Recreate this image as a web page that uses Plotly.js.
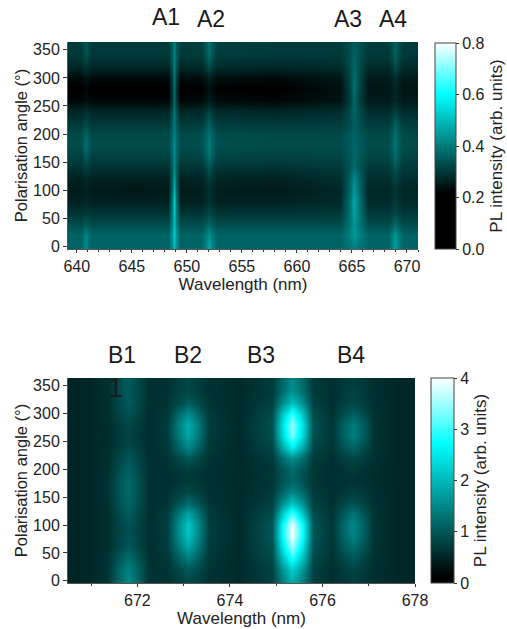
<!DOCTYPE html>
<html><head><meta charset="utf-8">
<script src="https://cdn.plot.ly/plotly-3.0.1.min.js"></script>
<style>html,body{margin:0;padding:0;background:#fff}</style></head>
<body><div id="chart" style="width:507px;height:629px"></div>
<script>
const angles=[0,20,40,60,80,100,120,140,160,180,200,220,240,260,280,300,320,340,360];
const wavelengthsA=[639,640.35,640.6,640.8,641,641.25,645,648.3,648.65,648.85,649.05,649.4,651.3,651.75,652,652.25,652.7,658,663.9,664.7,665.2,665.7,666.5,668.3,668.65,668.9,669.15,669.6,672];
const intensityA=[
[.365,.365,.39,.425,.39,.365,.365,.365,.43,.495,.43,.365,.365,.415,.465,.415,.365,.365,.365,.39,.415,.39,.365,.365,.41,.455,.41,.365,.365],
[.365,.365,.385,.415,.385,.365,.365,.365,.445,.525,.445,.365,.365,.40,.435,.40,.365,.365,.365,.405,.445,.405,.365,.365,.405,.445,.405,.365,.365],
[.33,.33,.34,.355,.34,.33,.33,.33,.415,.50,.415,.33,.33,.35,.37,.35,.33,.33,.33,.385,.44,.385,.33,.33,.35,.37,.35,.33,.33],
[.295,.295,.30,.305,.30,.295,.295,.295,.405,.515,.405,.295,.295,.31,.325,.31,.295,.295,.30,.38,.46,.38,.30,.30,.31,.32,.31,.30,.30],
[.265,.265,.27,.275,.27,.265,.265,.265,.395,.525,.395,.265,.265,.28,.295,.28,.265,.265,.28,.375,.47,.375,.28,.28,.29,.30,.29,.28,.28],
[.255,.255,.26,.265,.26,.255,.25,.255,.37,.485,.37,.255,.26,.275,.29,.275,.26,.255,.275,.36,.445,.36,.275,.275,.285,.295,.285,.275,.275],
[.265,.265,.27,.28,.27,.265,.265,.265,.36,.455,.36,.265,.27,.29,.31,.29,.27,.265,.285,.355,.425,.355,.285,.285,.30,.315,.30,.285,.285],
[.29,.29,.30,.31,.30,.29,.29,.29,.355,.42,.355,.29,.295,.32,.345,.32,.295,.29,.30,.34,.38,.34,.30,.30,.32,.34,.32,.30,.30],
[.315,.315,.335,.355,.335,.315,.315,.315,.37,.425,.37,.315,.32,.355,.39,.355,.32,.315,.32,.345,.37,.345,.32,.32,.35,.38,.35,.32,.32],
[.33,.33,.355,.38,.355,.33,.33,.33,.38,.43,.38,.33,.335,.37,.405,.37,.335,.33,.33,.35,.37,.35,.33,.33,.36,.39,.36,.33,.33],
[.325,.325,.345,.365,.345,.325,.325,.325,.37,.415,.37,.325,.33,.36,.39,.36,.33,.325,.325,.345,.365,.345,.325,.325,.355,.385,.355,.325,.325],
[.30,.30,.31,.325,.31,.30,.30,.30,.35,.40,.35,.30,.305,.33,.355,.33,.305,.30,.305,.33,.355,.33,.305,.305,.33,.355,.33,.305,.305],
[.275,.275,.28,.29,.28,.275,.275,.275,.335,.395,.335,.275,.28,.30,.32,.30,.28,.275,.285,.325,.365,.325,.285,.285,.30,.315,.30,.285,.285],
[.225,.225,.23,.235,.23,.225,.225,.225,.30,.375,.30,.225,.23,.245,.26,.245,.23,.225,.245,.305,.365,.305,.255,.255,.265,.275,.265,.255,.255],
[.205,.21,.215,.225,.215,.21,.21,.21,.295,.38,.295,.21,.215,.23,.245,.23,.215,.21,.24,.31,.38,.31,.25,.25,.26,.27,.26,.25,.25],
[.23,.23,.24,.245,.24,.23,.23,.23,.31,.39,.31,.23,.235,.25,.265,.25,.235,.23,.25,.315,.38,.315,.255,.255,.27,.285,.27,.255,.255],
[.275,.275,.285,.30,.285,.275,.275,.275,.34,.405,.34,.275,.28,.305,.33,.305,.28,.275,.28,.325,.37,.325,.28,.28,.305,.33,.305,.28,.28],
[.30,.30,.32,.34,.32,.30,.30,.30,.355,.41,.355,.30,.305,.34,.375,.34,.305,.30,.30,.33,.36,.33,.30,.30,.33,.36,.33,.30,.30],
[.305,.305,.325,.345,.325,.305,.305,.305,.355,.405,.355,.305,.31,.35,.39,.35,.31,.305,.305,.33,.355,.33,.305,.305,.335,.365,.335,.305,.305]
];
const wavelengthsB=[670.4,671,671.35,671.58,671.8,672.02,672.25,672.65,672.88,673.1,673.32,673.55,674.2,674.9,675.13,675.35,675.57,675.8,676.2,676.43,676.65,676.87,677.1,677.6,678.1];
const intensityB=[
[.46,.52,.645,1.12,1.5,1.12,.645,.625,.75,.85,.75,.625,.55,.76,1.41,1.9,1.41,.76,.6,.68,.75,.68,.6,.52,.5],
[.46,.52,.64,1.09,1.45,1.09,.64,.64,.84,1.0,.84,.64,.55,.79,1.59,2.2,1.59,.79,.6,.71,.8,.71,.6,.52,.5],
[.46,.52,.62,.97,1.25,.97,.62,.68,1.08,1.4,1.08,.68,.55,.88,2.03,2.9,2.03,.88,.62,.83,1.0,.83,.62,.52,.5],
[.46,.52,.595,.82,1.0,.82,.595,.72,1.32,1.8,1.32,.72,.55,.95,2.4,3.5,2.4,.95,.65,.98,1.25,.98,.65,.52,.5],
[.46,.52,.59,.79,.95,.79,.59,.75,1.5,2.1,1.5,.75,.55,1.0,2.68,3.95,2.68,1.0,.67,1.1,1.45,1.1,.67,.52,.5],
[.46,.52,.59,.79,.95,.79,.59,.755,1.53,2.15,1.53,.755,.55,1.0,2.65,3.9,2.65,1.0,.67,1.13,1.5,1.13,.67,.52,.5],
[.46,.52,.60,.85,1.05,.85,.60,.72,1.32,1.8,1.32,.72,.55,.9,2.15,3.1,2.15,.9,.65,1.01,1.3,1.01,.65,.52,.5],
[.46,.52,.61,.91,1.15,.91,.61,.66,.96,1.2,.96,.66,.55,.78,1.53,2.1,1.53,.78,.62,.8,.95,.8,.62,.52,.5],
[.46,.52,.615,.94,1.2,.94,.615,.625,.75,.85,.75,.625,.55,.71,1.16,1.5,1.16,.71,.6,.68,.75,.68,.6,.52,.5],
[.46,.52,.615,.94,1.2,.94,.615,.61,.66,.7,.66,.61,.55,.67,.94,1.15,.94,.67,.59,.62,.65,.62,.59,.52,.5],
[.46,.52,.605,.88,1.1,.88,.605,.615,.69,.75,.69,.615,.55,.67,.97,1.2,.97,.67,.59,.65,.7,.65,.59,.52,.5],
[.46,.52,.595,.82,1.0,.82,.595,.64,.84,1.0,.84,.64,.55,.72,1.22,1.6,1.22,.72,.61,.74,.85,.74,.61,.52,.5],
[.46,.52,.58,.73,.85,.73,.58,.69,1.14,1.5,1.14,.69,.55,.84,1.84,2.6,1.84,.84,.64,.92,1.15,.92,.64,.52,.5],
[.46,.52,.575,.70,.8,.70,.575,.72,1.32,1.8,1.32,.72,.55,.92,2.27,3.3,2.27,.92,.66,1.07,1.4,1.07,.66,.52,.5],
[.46,.52,.58,.73,.85,.73,.58,.73,1.38,1.9,1.38,.73,.55,.94,2.37,3.45,2.37,.94,.66,1.07,1.4,1.07,.66,.52,.5],
[.46,.52,.59,.79,.95,.79,.59,.695,1.17,1.55,1.17,.695,.55,.89,2.09,3.0,2.09,.89,.63,.89,1.1,.89,.63,.52,.5],
[.46,.52,.60,.85,1.05,.85,.60,.645,.87,1.05,.87,.645,.55,.78,1.53,2.1,1.53,.78,.61,.74,.85,.74,.61,.52,.5],
[.46,.52,.60,.85,1.05,.85,.60,.625,.75,.85,.75,.625,.55,.72,1.22,1.6,1.22,.72,.6,.71,.8,.71,.6,.52,.5],
[.46,.52,.60,.85,1.05,.85,.60,.625,.75,.85,.75,.625,.55,.71,1.16,1.5,1.16,.71,.6,.68,.75,.68,.6,.52,.5]
];
const peakLabelsA=["A1","A2","A3","A4"];
const peakLabelsB=["B1","B2","B3","B4"];
const W=507,H=629;
const ink="#222",FF='"Liberation Sans",Arial,sans-serif';
const fx=p=>p/W, fy=p=>1-p/H;
const scaleA=[[0,"#000"],[0.27,"#000"],[0.75,"#0ff"],[1,"#fff"]];
const scaleB=[[0,"#000"],[0.03,"#000"],[0.68,"#0ff"],[0.8,"#6ff"],[1,"#fff"]];
function bar(x,top,bot,th,title,tickvals,ticktext){return {
 x:fx(x),xanchor:"left",xpad:0,y:fy(bot),yanchor:"bottom",ypad:0,lenmode:"pixels",len:bot-top,thicknessmode:"pixels",thickness:th,
 outlinecolor:"#444",outlinewidth:1,ticks:"outside",ticklen:3,tickcolor:"#333",tickvals,ticktext,tickfont:{family:FF,size:16,color:ink},
 title:{text:title,side:"right",font:{family:FF,size:17,color:ink}}}}
const traces=[
 {type:"heatmap",x:wavelengthsA,y:angles,z:intensityA,xaxis:"x",yaxis:"y",zmin:0,zmax:0.8,zsmooth:"best",colorscale:scaleA,
  colorbar:bar(435,43,249,21,"PL intensity (arb. units)",[0,.2,.4,.6,.8],["0.0","0.2","0.4","0.6","0.8"])},
 {type:"heatmap",x:wavelengthsB,y:angles,z:intensityB,xaxis:"x2",yaxis:"y2",zmin:0,zmax:4,zsmooth:"best",colorscale:scaleB,
  colorbar:bar(431,378,583,23,"PL intensity (arb. units)",[0,1,2,3,4],["0","1","2","3","4"])}
];
function yax(top,bot,range,anchor){return {domain:[fy(bot),fy(top)],range,anchor,dtick:50,tick0:0,ticks:"outside",ticklen:4,tickcolor:"#333",
 showline:true,linecolor:"#555",linewidth:1,showgrid:false,zeroline:false,tickfont:{family:FF,size:16,color:ink},
 title:{text:"Polarisation angle (°)",standoff:1,font:{family:FF,size:16.5,color:ink}}}}
function xax(left,right,range,anchor,dtick,tick0){return {domain:[fx(left),fx(right)],range,anchor,dtick,tick0,ticks:"outside",ticklen:3,tickcolor:"#333",
 minor:{dtick:1,ticks:"outside",ticklen:2,tickcolor:"#333",showgrid:false},
 showline:true,linecolor:"#555",linewidth:1,showgrid:false,zeroline:false,tickfont:{family:FF,size:16,color:ink},
 title:{text:"Wavelength (nm)",standoff:3,font:{family:FF,size:17,color:ink}}}}
function note(text,px,py,size){return {text,xref:"paper",yref:"paper",x:fx(px),y:fy(py),xanchor:"center",yanchor:"middle",showarrow:false,font:{family:FF,size:size||23,color:"#1a1a1a"}}}
const ax=[166,211,348,393], bx=[122,188,261,351];
const annotations=[
 ...peakLabelsA.map((t,i)=>note(t,ax[i],i==0?17:19)),
 ...peakLabelsB.map((t,i)=>note(t,bx[i],355)),
 note("1",115,388,27)
];
const layout={width:W,height:H,margin:{l:0,r:0,t:0,b:0},paper_bgcolor:"#fff",plot_bgcolor:"#000",showlegend:false,annotations,
 xaxis:xax(68,418,[639.2,671],"y",5,640),
 yaxis:yax(42,249,[-5,364],"x"),
 xaxis2:xax(68,415,[670.5,678],"y2",2,672),
 yaxis2:yax(378,583,[-4,364],"x2")
};
Plotly.newPlot("chart",traces,layout,{displayModeBar:false,staticPlot:true});
</script></body></html>
